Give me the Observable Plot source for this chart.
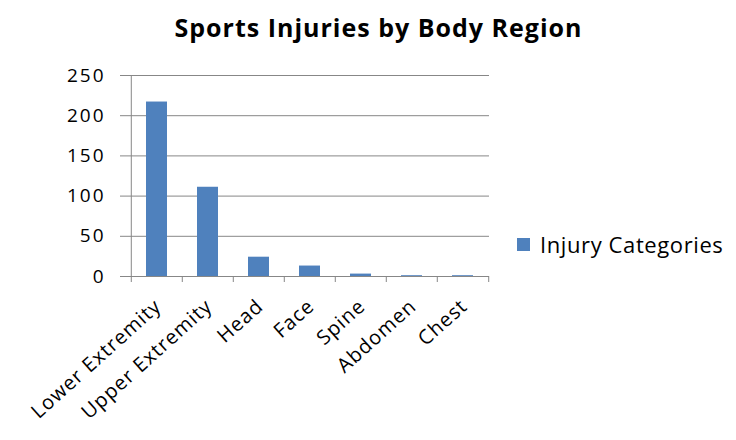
<!DOCTYPE html>
<html><head><meta charset="utf-8">
<script src="https://cdn.jsdelivr.net/npm/d3@7"></script>
<script src="https://cdn.jsdelivr.net/npm/@observablehq/plot@0.6"></script>
<style>
body{margin:0;background:#fff;font-family:"Open Sans",sans-serif;}
#wrap{position:relative;width:736px;height:440px;}
#title{position:absolute;left:0;width:757px;top:10px;text-align:center;font-weight:bold;font-size:25px;letter-spacing:1px;color:#000;white-space:nowrap;}
#legend{position:absolute;left:517px;top:229px;font-size:22px;letter-spacing:0.6px;display:flex;align-items:center;color:#000;white-space:nowrap;}
#legend .sw{display:inline-block;width:13px;height:13px;background:#4F81BD;margin-right:10px;}
g[aria-label="y-axis tick label"]{letter-spacing:2px;}
g[aria-label="text"]{letter-spacing:1px;}
</style></head><body>
<div id="wrap">
<div id="chart"></div>
<div id="title">Sports Injuries by Body Region</div>
<div id="legend"><span class="sw"></span><span id="lt"></span></div>
</div>
<script>
const categories = ["Lower Extremity","Upper Extremity","Head","Face","Spine","Abdomen","Chest"];
const injuries = [217, 111, 24, 13, 3, 1, 1];
const yTicks = [0, 50, 100, 150, 200, 250];
const seriesName = "Injury Categories";

document.getElementById("lt").textContent = seriesName;
const data = categories.map((c, i) => ({category: c, value: injuries[i]}));
const W = 736, H = 440, ML = 129, MR = 247, MT = 75, MB = 164;
const step = (W - ML - MR) / categories.length;
const gray = "#878787";

const chart = Plot.plot({
  width: W, height: H,
  marginLeft: ML, marginRight: MR, marginTop: MT, marginBottom: MB,
  style: {fontFamily: "Open Sans", fontSize: "20px", color: "#000", background: "#fff", overflow: "visible"},
  x: {domain: categories, padding: 0, axis: null},
  y: {domain: [0, 250], axis: null},
  marks: [
    Plot.gridY(yTicks, {stroke: gray, strokeOpacity: 1, strokeWidth: 1}),
    Plot.barY(data, {x: "category", y: "value", fill: "#4F81BD", insetLeft: 15, insetRight: 15}),
    Plot.ruleX([categories[0]], {dx: -step / 2, y1: 0, y2: 250, stroke: gray}),
    Plot.ruleX(categories, {dx: -step / 2, y1: 0, y2: 0, insetBottom: -6, stroke: gray}),
    Plot.ruleX([categories[categories.length - 1]], {dx: step / 2, y1: 0, y2: 0, insetBottom: -6, stroke: gray}),
    Plot.axisY(yTicks, {label: null, tickSize: 9, tickPadding: 15, stroke: gray, fill: "#000", fontSize: 19, tickFormat: d => d}),
    Plot.text(data, {x: "category", y: 0, text: "category", rotate: -42, textAnchor: "end", lineAnchor: "top", dx: -4, dy: 21, fontSize: 20, fill: "#000"})
  ]
});
document.getElementById("chart").appendChild(chart);
</script>
</body></html>
